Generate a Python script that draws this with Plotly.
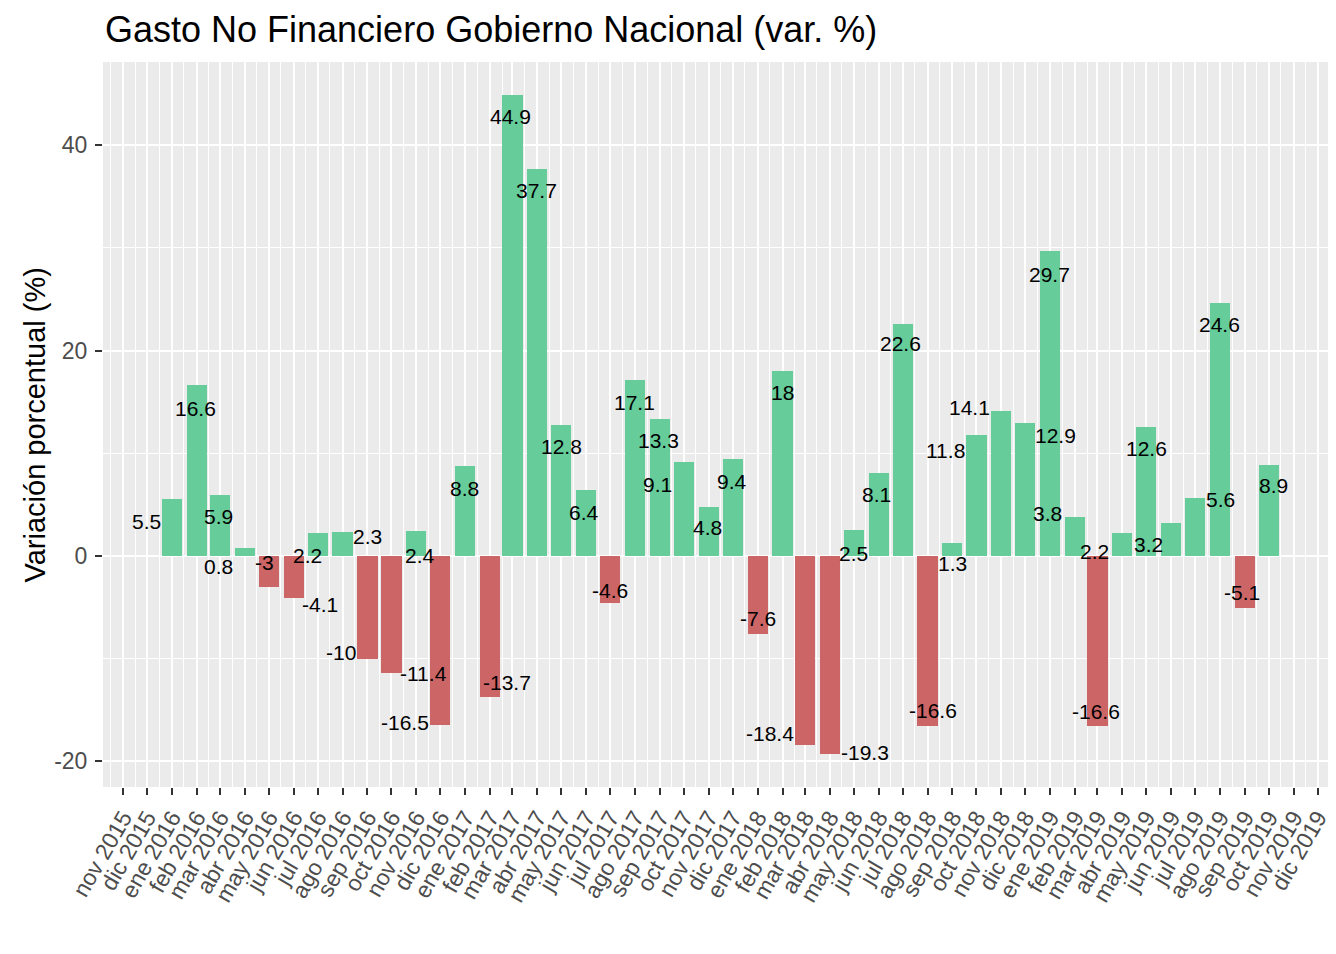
import pandas as pd
import plotly.graph_objects as go

# ---- data ----
values = [5.5, 16.6, 5.9, 0.8, -3, -4.1, 2.2, 2.3, -10, -11.4, 2.4, -16.5,
          8.8, -13.7, 44.9, 37.7, 12.8, 6.4, -4.6, 17.1, 13.3, 9.1, 4.8, 9.4,
          -7.6, 18, -18.4, -19.3, 2.5, 8.1, 22.6, -16.6, 1.3, 11.8, 14.1, 12.9,
          29.7, 3.8, -16.6, 2.2, 12.6, 3.2, 5.6, 24.6, -5.1, 8.9]
first_month = "2016-01-01"
month_abbr = ["ene", "feb", "mar", "abr", "may", "jun",
              "jul", "ago", "sep", "oct", "nov", "dic"]
tick_start = "2015-11-01"
tick_end = "2019-12-01"
y_ticks = [-20, 0, 20, 40]
y_tick_text = ["-20", "0", "20", "40"]

# ---- label placement (pixel offsets, repel-like) ----
label_dx = [-25, -1, -1, -26, -4, 26, -10, 25, -26, 32, 4, -35,
            -1, 17, -2, -1, 0, -2, 0, -1, -1, -26, -1, -1,
            0, 0, -35, 35, 0, -2, -2, 5, 0, -31, -32, 30,
            -1, -27, -1, -28, 0, -23, 25, -1, -3, 5]
label_dy = [22, 23, 21, 19, -24, 6, 22, 4, -6, 1, 24, -3,
            23, -14, 22, 22, 22, 22, -13, 22, 21, 22, 21, 22,
            -15, 21, -11, -2, 23, 22, 20, -16, 21, 16, -4, 12,
            23, -3, -15, 18, 22, 21, 1, 21, -16, 21]

dates = pd.date_range(start=first_month, periods=len(values), freq="MS")
tick_dates = pd.date_range(start=tick_start, end=tick_end, freq="MS")
tick_text = [f"{month_abbr[d.month - 1]} {d.year}" for d in tick_dates]

POS = "#66CC99"
NEG = "#CC6666"
FONT = "Arial, Liberation Sans, sans-serif"
colors = [POS if v >= 0 else NEG for v in values]

# page body adds an 8px margin; size the figure so it fills the window
W, H = 1328, 946

fig = go.Figure()
fig.add_trace(go.Bar(
    x=dates, y=values,
    width=25.2 * 86400000,
    marker=dict(color=colors, line=dict(width=0)),
    showlegend=False,
))

for d, v, dx, dy in zip(dates, values, label_dx, label_dy):
    fig.add_annotation(
        x=d, y=v, xref="x", yref="y",
        text=f"{v:g}", showarrow=False,
        xshift=dx, yshift=-dy,
        font=dict(family=FONT, size=21, color="black"),
    )

fig.add_annotation(
    x=-0.0553, y=0.5, xref="paper", yref="paper",
    text="Variación porcentual (%)", textangle=-90, showarrow=False,
    xanchor="center", yanchor="middle",
    font=dict(family=FONT, size=29, color="black"),
)

fig.update_layout(
    width=W, height=H,
    margin=dict(l=95, r=3, t=54, b=167, autoexpand=False),
    paper_bgcolor="white",
    plot_bgcolor="#EBEBEB",
    bargap=0,
    title=dict(
        text="Gasto No Financiero Gobierno Nacional (var. %)",
        x=97 / W, xanchor="left", xref="container",
        y=1 - 21 / H, yanchor="middle", yref="container",
        font=dict(family=FONT, size=36, color="black"),
    ),
    font=dict(family=FONT),
)

fig.update_xaxes(
    type="date", automargin=False,
    range=["2015-10-07", "2019-12-20"],
    tickmode="array", tickvals=tick_dates, ticktext=tick_text,
    tickangle=-60,
    tickfont=dict(family=FONT, size=23, color="#4D4D4D"),
    ticks="outside", ticklen=7, tickwidth=2, tickcolor="#333333",
    showgrid=True, gridcolor="white", gridwidth=2,
    minor=dict(tickmode="linear", tick0="2015-10-16", dtick="M1",
               showgrid=True, gridcolor="white", gridwidth=1, ticks=""),
    zeroline=False, showline=False,
)

fig.update_yaxes(
    automargin=False,
    range=[-22.51, 48.11],
    tickmode="array", tickvals=y_ticks, ticktext=y_tick_text,
    tickfont=dict(family=FONT, size=23, color="#4D4D4D"),
    ticks="outside", ticklen=7, tickwidth=2, tickcolor="#333333",
    ticklabelstandoff=3,
    showgrid=True, gridcolor="white", gridwidth=2,
    minor=dict(tickmode="linear", tick0=-30, dtick=10,
               showgrid=True, gridcolor="white", gridwidth=1, ticks=""),
    zeroline=False, showline=False,
)

fig.write_html("out.html")
